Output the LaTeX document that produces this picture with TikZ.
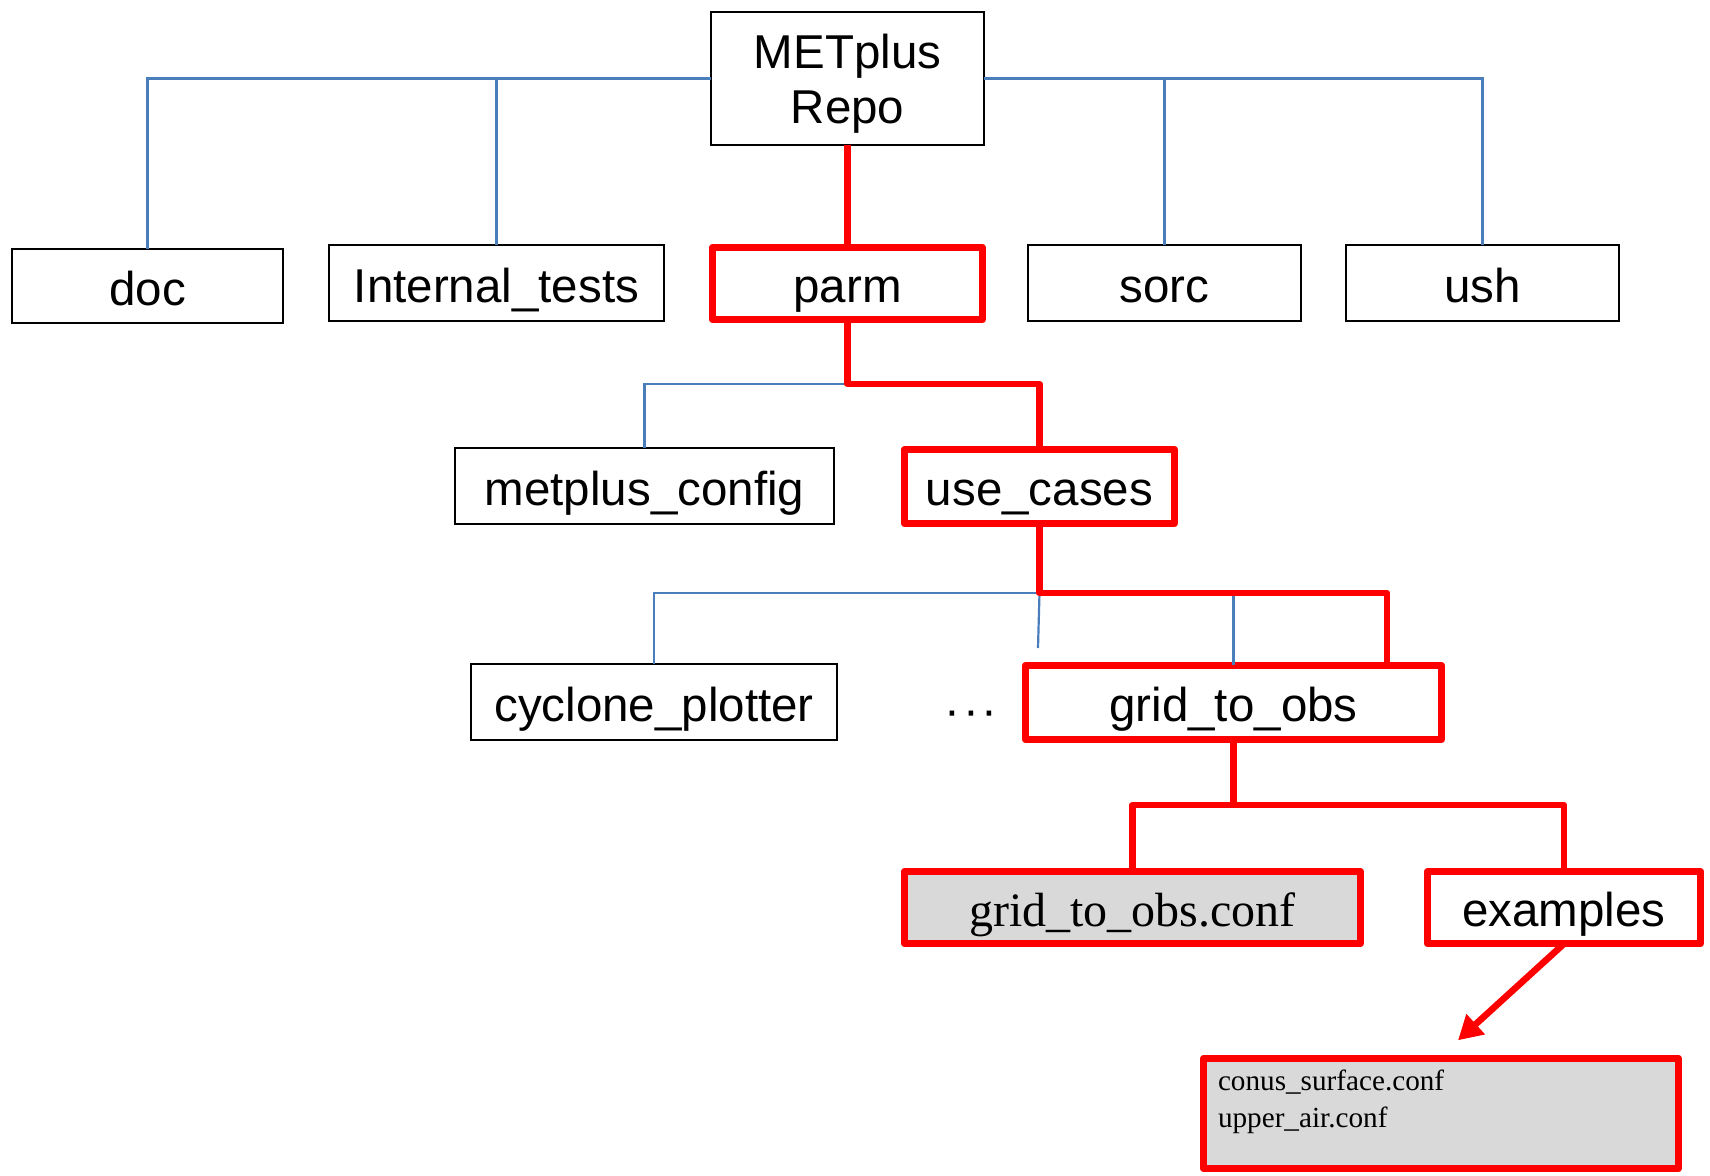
\documentclass[tikz,border=0pt]{standalone}
\usepackage{fontspec}
\setmainfont{Liberation Sans}
\newfontfamily\seriffont{Liberation Serif}
\usetikzlibrary{arrows.meta}
\definecolor{lineblue}{HTML}{4A7EBB}
\definecolor{boxred}{HTML}{FF0000}
\definecolor{boxgray}{HTML}{D9D9D9}
\begin{document}
\begin{tikzpicture}[x=0.5pt,y=-0.5pt,
  every node/.style={inner sep=0pt,outer sep=0pt},
  bigtext/.style={font=\fontsize{23.75}{27.5}\selectfont,text height=24pt,text depth=5pt},
  blackbox/.style={draw=black,line width=1.2pt,rectangle,fill=white,bigtext},
  redbox/.style={draw=boxred,line width=3.3pt,line join=round,rectangle,fill=white,bigtext},
  graybox/.style={redbox,fill=boxgray},
  blueline/.style={draw=lineblue,line width=1.1pt},
  redline/.style={draw=boxred,line width=3.3pt,line join=round},
  smalltext/.style={font=\seriffont\fontsize{14.6}{18}\selectfont,anchor=base west}
]
\useasboundingbox (0,0) rectangle (1710,1175);

% coordinates of junctions
\coordinate (j1) at (847.5,384);
\coordinate (j2) at (1039.5,593);
\coordinate (j3) at (1233.5,805);
\coordinate (dotsup) at (1038,648);

% nodes
\node[blackbox,minimum width=136.3pt,minimum height=66.3pt,align=center,text height=,text depth=] (repo) at (847.5,78.5) {\rule{0pt}{22pt}METplus\\Repo};
\node[blackbox,minimum width=135.3pt,minimum height=36.8pt] (doc) at (147.5,286) {doc};
\node[blackbox,minimum width=167.3pt,minimum height=37.8pt] (internal) at (496.5,283) {Internal\_tests};
\node[redbox,minimum width=135.2pt,minimum height=36.2pt] (parm) at (847.5,283.5) {parm};
\node[blackbox,minimum width=136.3pt,minimum height=37.8pt] (sorc) at (1164.5,283) {sorc};
\node[blackbox,minimum width=136.3pt,minimum height=37.8pt] (ush) at (1482.5,283) {ush};
\node[blackbox,minimum width=189.3pt,minimum height=37.8pt] (metplus) at (644.5,486) {metplus\_config};
\node[redbox,minimum width=135.2pt,minimum height=37.2pt] (usecases) at (1039.5,486.5) {use\_cases};
\node[blackbox,minimum width=182.8pt,minimum height=37.8pt] (cyclone) at (654,702) {cyclone\_plotter};
\node[font=\fontsize{23.75}{27.5}\selectfont,anchor=base] (dots) at (971,726) {·\kern1.5pt·\kern1.5pt·};
\node[redbox,minimum width=208.2pt,minimum height=37.2pt] (grid) at (1233.5,702.5) {grid\_to\_obs};
\node[graybox,minimum width=228.2pt,minimum height=36.2pt,font=\seriffont\fontsize{24}{28}\selectfont] (gconf) at (1132.5,907.5) {grid\_to\_obs.conf};
\node[redbox,minimum width=136.7pt,minimum height=36.2pt] (examples) at (1564,907.5) {examples};
\node[graybox,minimum width=237.7pt,minimum height=55.2pt] (files) at (1441,1113.5) {};
\node[smalltext] (f1) at (1218,1090) {conus\_surface.conf};
\node[smalltext] (f2) at (1218,1127) {upper\_air.conf};

% blue connectors
\path[blueline] (repo.west) -| (doc.north);
\path[blueline] (repo.west) -| (internal.north);
\path[blueline] (repo.east) -| (sorc.north);
\path[blueline] (repo.east) -| (ush.north);
\path[blueline] (j1) -| (metplus.north);
\path[blueline] (j2) -| (cyclone.north);
\path[blueline] (j2) -- (dotsup);
\path[blueline] (grid.north |- j2) -- (grid.north);

% red connectors
\path[redline] (repo.south) -- (parm.north);
\path[redline] (parm.south) -- (j1) -| (usecases.north);
\path[redline] (usecases.south) -- (j2) -| ([xshift=76.75pt]grid.north);
\path[redline] (grid.south) -- (j3);
\path[redline] (gconf.north) |- (j3) -| (examples.north);
\path[redline,-{Triangle[length=12pt,width=13pt]}] (examples.south) -- ([xshift=8.5pt,yshift=9pt]files.north);
\end{tikzpicture}
\end{document}
